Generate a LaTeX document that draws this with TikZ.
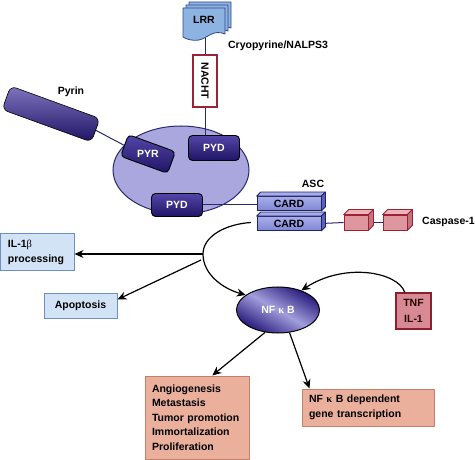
\documentclass[tikz,border=0pt]{standalone}
\usepackage{fontspec}
\setmainfont{Liberation Sans}
\newfontfamily\grk{Liberation Serif}
\usetikzlibrary{arrows.meta,calc,shapes.geometric}
\pgfdeclarelayer{bgA}\pgfdeclarelayer{bgB}\pgfsetlayers{bgA,bgB,main}
\definecolor{navy}{HTML}{2B2A6E}
\definecolor{lrrfill}{HTML}{8DB3E2}
\definecolor{lrrbd}{HTML}{2E4A8A}
\definecolor{nachtbd}{HTML}{9B2335}
\definecolor{ellfill}{HTML}{A9A7DD}
\definecolor{domtop}{HTML}{5446A8}
\definecolor{dombot}{HTML}{1E1466}
\definecolor{cardfill}{HTML}{8087D3}
\definecolor{cardtopc}{HTML}{A8ADEA}
\definecolor{cardside}{HTML}{5C62B8}
\definecolor{cardbd}{HTML}{1F2468}
\definecolor{caspfill}{HTML}{DE979E}
\definecolor{casptop}{HTML}{EDB5BA}
\definecolor{caspside}{HTML}{C4737C}
\definecolor{caspbd}{HTML}{9B2335}
\definecolor{bluefill}{HTML}{D3E3F6}
\definecolor{bluebd}{HTML}{6D8FC6}
\definecolor{salfill}{HTML}{EAB09C}
\definecolor{salbd}{HTML}{C4806C}
\definecolor{tnffill}{HTML}{D78A94}
\definecolor{tnfbd}{HTML}{8B1F30}
\definecolor{nfdark}{HTML}{24187A}
\definecolor{nflight}{HTML}{A29DDC}
\newcommand\mkfaces[5]{%
  \filldraw[fill=#3,draw=#5,line width=0.8pt,line join=round] (#1.north west) -- ++(#2,-#2) -- ($(#1.north east)+(#2,-#2)$) -- (#1.north east) -- cycle;
  \filldraw[fill=#4,draw=#5,line width=0.8pt,line join=round] (#1.north east) -- ($(#1.north east)+(#2,-#2)$) -- ($(#1.south east)+(#2,-#2)$) -- (#1.south east) -- cycle;}
\newcommand\lrrsheet[2]{%
  \begin{scope}[shift={(#1,#2)}]
  \filldraw[fill=lrrfill,draw=lrrbd,line width=0.8pt,line join=round] (183,8) -- (225,8) -- (225,34) .. controls (213,29) and (208,38) .. (199,40) .. controls (191,41) and (186,39) .. (183,37) -- cycle;
  \end{scope}}
\begin{document}
\begin{tikzpicture}[x=1pt,y=-1pt,
  txt/.style={font=\fontsize{10.5}{14.6}\selectfont\bfseries, inner sep=0pt},
  bluebox/.style={txt, draw=bluebd, fill=bluefill, line width=1pt},
  salbox/.style={txt, draw=salbd, fill=salfill, line width=1pt, align=left, inner xsep=7pt},
  dombox/.style={txt, text=white, draw=black, line width=0.9pt, rounded corners=4pt, top color=domtop, bottom color=dombot, minimum width=50pt, minimum height=23pt},
  cardbox/.style={txt, draw=cardbd, line width=0.8pt, top color=cardtopc, bottom color=cardfill, minimum width=64pt, minimum height=14pt},
  caspbox/.style={draw=caspbd, line width=0.8pt, fill=caspfill, minimum width=24pt, minimum height=15pt, inner sep=0pt},
  arr/.style={-{Stealth[length=9pt,width=8pt]}, line width=1.2pt},
  link/.style={draw=navy, line width=1pt}]
\useasboundingbox (0,0) rectangle (475,460);

% cell ellipse
\begin{pgfonlayer}{bgA}
\node[ellipse, minimum width=136pt, minimum height=88pt, fill=ellfill, draw=navy, line width=1pt] (cell) at (181,170) {};
\end{pgfonlayer}

% LRR stack
\lrrsheet{6}{-6}
\lrrsheet{3}{-3}
\lrrsheet{0}{0}
\node[txt] (lrr) at (204,20) {LRR};
\coordinate (lrrbot) at (205,38);
\node[txt] (cryo) at (278,46) {Cryopyrine/NALPS3};

\node[txt, draw=nachtbd, fill=white, line width=1.2pt, rotate=-90, minimum width=52pt, minimum height=24pt] (nacht) at (205,81) {NACHT};

% Pyrin
\node[draw=black, line width=0.6pt, rounded corners=6pt, top color=domtop!75!white, bottom color=dombot, rotate=-20, minimum width=95pt, minimum height=25pt] (pyrin) at (51,114) {};
\node[txt] (pyrinlab) at (71,92) {Pyrin};

% domains
\node[dombox, rotate=-20] (pyr) at (148,154) {};
\node[txt, text=white] (pyrlab) at (pyr.center) {PYR};
\node[dombox, minimum width=51pt, minimum height=25pt] (pydt) at (214,148) {PYD};
\node[dombox, minimum width=51pt, minimum height=23pt] (pydb) at (177,205) {PYD};

% ASC CARDs
\node[cardbox] (card1) at (289,203.5) {CARD};
\mkfaces{card1}{4}{cardtopc}{cardside}{cardbd}
\node[cardbox] (card2) at (289,223.5) {CARD};
\mkfaces{card2}{4}{cardtopc}{cardside}{cardbd}
\node[txt] (asc) at (313,184) {ASC};

% Caspase-1
\node[caspbox] (c1) at (356,222.5) {};
\mkfaces{c1}{5}{casptop}{caspside}{caspbd}
\node[caspbox] (c2) at (395,222.5) {};
\mkfaces{c2}{5}{casptop}{caspside}{caspbd}
\node[txt, anchor=west] (casplab) at (422,222) {Caspase-1};

% connecting lines under the shapes
\begin{pgfonlayer}{bgB}
\draw[link] (lrrbot) -- (nacht.west);
\draw[link] (nacht.east) -- (nacht.east |- pydt.north);
\draw[link] (pyrin.east) -- (pyr.west);
\draw[link] (pydb.east) -- (pydb.east -| card1.west);
\draw[link] (card2.east) -- (c1.west);
\draw[link] (c1.east) -- (c2.west);
\end{pgfonlayer}

% output boxes
\node[bluebox, align=left, text width=58pt, inner xsep=8pt, minimum height=37pt] (il1) at (37,252.5) {IL-1{\grk\mdseries β}\\processing};
\node[bluebox, minimum width=73pt, minimum height=24pt] (apop) at (80.5,306) {Apoptosis};

\node[ellipse, draw=black, line width=1pt, minimum width=83pt, minimum height=46pt, top color=nfdark, bottom color=nfdark, middle color=nflight, shading angle=-30, txt, text=white] (nfkb) at (278,310) {NF {\grk κ} B};

\node[txt, draw=tnfbd, fill=tnffill, line width=1.2pt, text=black!85!red, align=center, minimum width=35pt, minimum height=36pt] (tnf) at (413.5,311) {TNF\\[2pt]IL-1};

\node[salbox, text width=90pt, minimum height=83pt] (angio) at (197,417.5) {Angiogenesis\\Metastasis\\Tumor promotion\\Immortalization\\Proliferation};
\node[salbox, text width=118pt, minimum height=37pt] (dep) at (368,407.5) {NF {\grk κ} B dependent\\gene transcription};

% arrows
\coordinate (cstart) at (251,222.5);
\coordinate (split) at (203,254);
\coordinate (split2) at (201,260);
\draw[arr] (cstart) .. controls (226,224) and (203,236) .. (split) .. controls (203,275) and (224,289) .. (nfkb.155);
\draw[arr] (split) -- (split -| il1.east);
\draw[arr] (split2) -- (apop.10);
\draw[arr] (tnf.115) .. controls (398,272) and (345,262) .. (nfkb.40);
\draw[arr] (nfkb.240) -- (angio.70);
\draw[arr] (nfkb.297) -- (dep.162);
\end{tikzpicture}
\end{document}
